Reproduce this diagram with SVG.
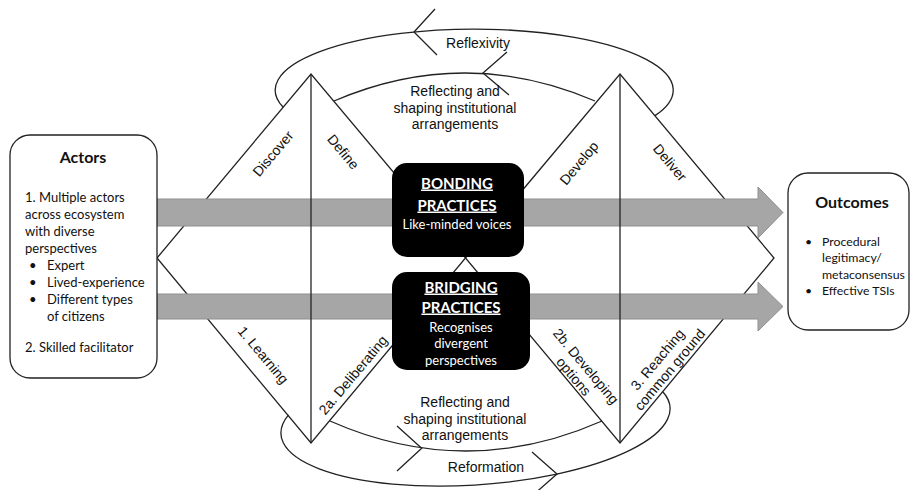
<svg xmlns="http://www.w3.org/2000/svg" width="913" height="490" viewBox="0 0 913 490">
<style>
.ln{stroke:#222;stroke-width:1.3;fill:none;stroke-linejoin:miter}
.arr{fill:#a6a6a6;stroke:#8f8f8f;stroke-width:1}
.lbl{font-family:"Liberation Sans",Arial,sans-serif;font-size:14px;fill:#111;text-anchor:middle}
.cal{font-family:Lato,"Open Sans",sans-serif;fill:#111}
.box{fill:#fff;stroke:#222;stroke-width:1.3}
.blk{fill:#000}
.wt{font-family:Lato,"Open Sans",sans-serif;fill:#fff;text-anchor:middle}
.hd{font-weight:bold;font-size:15px;text-decoration:underline}
</style>
<g id="diamonds">
<polygon class="ln" points="157,258 311,74 465.5,258 311,443"/>
<polygon class="ln" points="465.5,258 620,74 774,258 620,443"/>
</g>
<g id="connectors">
<path class="arr" d="M157 199 H758 V187 L783 212.5 L758 238 V226 H157 Z"/>
<path class="arr" d="M157 294 H758 V282 L783 306.5 L758 331 V319 H157 Z"/>
<line class="ln" x1="311" y1="74" x2="311" y2="443"/>
<line class="ln" x1="620" y1="74" x2="620" y2="443"/>
<path class="ln" d="M283 107 A199 61 0 1 1 655 115.6"/>
<path class="ln" d="M334 101 Q464.5 45 595 101"/>
<path class="ln" d="M288.5 414.8 A195 64 -4 1 0 663 392"/>
<path class="ln" d="M330 421 Q466 481 602 421"/>
<polyline class="ln" points="435,9 414,32 437,55"/>
<polyline class="ln" points="507,52 483,73 509,95"/>
<polyline class="ln" points="397,426 421.7,448.3 397,471"/>
<polyline class="ln" points="532,452 557,474 532,496"/>
</g>
<g id="labels">
<text class="lbl" x="478" y="48">Reflexivity</text>
<text class="lbl" x="455" y="96">Reflecting and</text>
<text class="lbl" x="455" y="112.5">shaping institutional</text>
<text class="lbl" x="455" y="129">arrangements</text>
<text class="lbl" x="465" y="407">Reflecting and</text>
<text class="lbl" x="465" y="424">shaping institutional</text>
<text class="lbl" x="465" y="440">arrangements</text>
<text class="lbl" x="486" y="472">Reformation</text>
<text class="lbl" transform="translate(273,153.5) rotate(-50)" y="5">Discover</text>
<text class="lbl" transform="translate(343.3,151.7) rotate(50)" y="5">Define</text>
<text class="lbl" transform="translate(579,163) rotate(-50)" y="5">Develop</text>
<text class="lbl" transform="translate(670,162.5) rotate(50)" y="5">Deliver</text>
<text class="lbl" transform="translate(263.3,355) rotate(50)" y="5">1. Learning</text>
<text class="lbl" transform="translate(353,375) rotate(-50)" y="5">2a. Deliberating</text>
<text class="lbl" transform="translate(579.9,371.3) rotate(50)"><tspan x="0" y="-3">2b. Developing</tspan><tspan x="0" y="13">options</tspan></text>
<text class="lbl" transform="translate(663.5,364.5) rotate(-50)"><tspan x="0" y="-3">3. Reaching</tspan><tspan x="0" y="13">common ground</tspan></text>
</g>
<g id="actors">
<rect class="box" x="10" y="135" width="147" height="243" rx="20"/>
<text class="cal" x="83" y="162.5" font-size="16" font-weight="bold" text-anchor="middle">Actors</text>
<g font-size="13" class="cal">
<text class="cal" x="25" y="201.5">1. Multiple actors</text>
<text class="cal" x="25" y="218.5">across ecosystem</text>
<text class="cal" x="25" y="235.5">with diverse</text>
<text class="cal" x="25" y="252.5">perspectives</text>
<text class="cal" x="29" y="269.5">•</text><text class="cal" x="47" y="269.5">Expert</text>
<text class="cal" x="29" y="286.5">•</text><text class="cal" x="47" y="286.5">Lived-experience</text>
<text class="cal" x="29" y="303.5">•</text><text class="cal" x="47" y="303.5">Different types</text>
<text class="cal" x="47" y="320.5">of citizens</text>
<text class="cal" x="25" y="351.5">2. Skilled facilitator</text>
</g>
</g>
<g id="outcomes">
<rect class="box" x="788" y="173" width="121" height="157" rx="20"/>
<text class="cal" x="852" y="207.5" font-size="16" font-weight="bold" text-anchor="middle">Outcomes</text>
<g font-size="12.3">
<text class="cal" x="805" y="245.5">•</text><text class="cal" x="822" y="245.5">Procedural</text>
<text class="cal" x="822" y="261.5">legitimacy/</text>
<text class="cal" x="822" y="278.5">metaconsensus</text>
<text class="cal" x="805" y="294.5">•</text><text class="cal" x="822" y="294.5">Effective TSIs</text>
</g>
</g>
<g id="bonding">
<rect class="blk" x="392" y="163" width="132" height="94" rx="15"/>
<text class="wt hd" x="457" y="188.5">BONDING</text>
<text class="wt hd" x="457" y="210.5">PRACTICES</text>
<text class="wt" x="457" y="228.5" font-size="13">Like-minded voices</text>
</g>
<g id="bridging">
<rect class="blk" x="392" y="272" width="138" height="98" rx="15"/>
<text class="wt hd" x="461" y="292.5">BRIDGING</text>
<text class="wt hd" x="461" y="312.5">PRACTICES</text>
<text class="wt" x="461" y="331.5" font-size="13">Recognises</text>
<text class="wt" x="461" y="347.5" font-size="13">divergent</text>
<text class="wt" x="461" y="364.5" font-size="13">perspectives</text>
</g>
</svg>
